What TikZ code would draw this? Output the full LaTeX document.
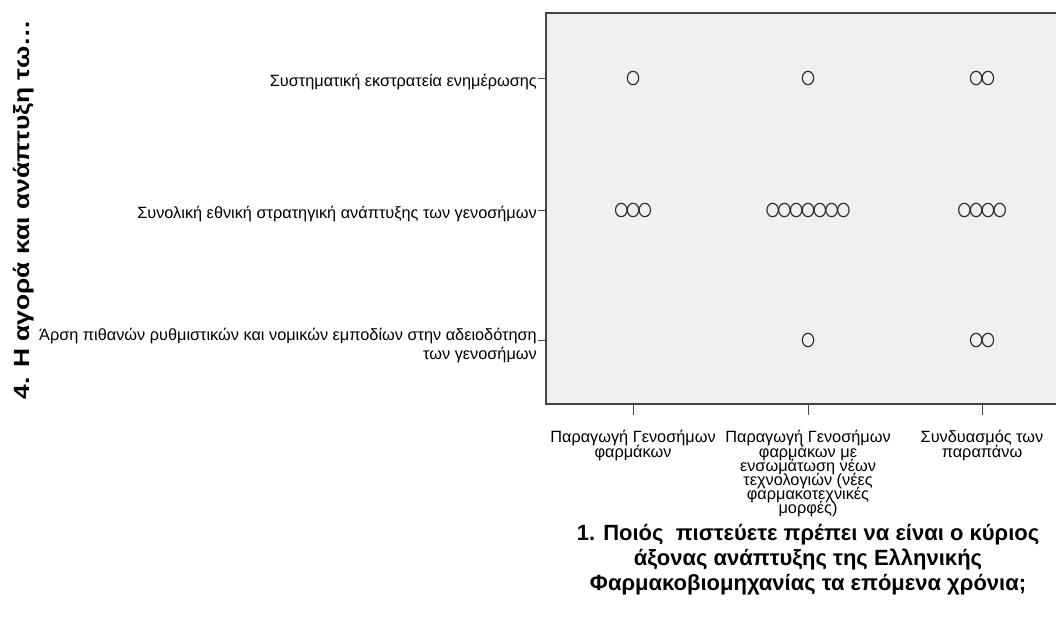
\documentclass[tikz,border=0pt]{standalone}
\usepackage{fontspec}
\setmainfont{Liberation Sans}
\usetikzlibrary{calc}
\definecolor{plotbg}{HTML}{F0F0F0}
\definecolor{frameclr}{HTML}{444444}
\definecolor{ptclr}{HTML}{333333}
\newcommand{\tightlines}{\lineskiplimit=-100pt\relax\lineskip=0pt\relax}
\tikzset{
  ticklbl/.style={inner sep=0pt, font={\fontsize{16.3}{14.2}\selectfont\tightlines}, text=black},
  xlbl/.style={ticklbl, anchor=north, align=center},
  ylbl/.style={ticklbl, anchor=base east, align=right},
  axtitle/.style={inner sep=0pt, font={\bfseries\fontsize{22}{24.7}\selectfont\tightlines}, align=center},
  tickline/.style={draw=frameclr, line width=1pt},
  pt/.style={draw=ptclr, line width=1.2pt},
}
\newcommand{\pts}[3]{% center x, y, count
  \foreach \k in {1,...,#3}{
    \draw[pt] ({#1+(\k-(#3+1)/2)*11.8},#2) ellipse [x radius=5.7, y radius=6.7];
  }}
\begin{document}
\begin{tikzpicture}[x=1pt,y=-1pt]
\useasboundingbox (0,0) rectangle (1056,624);
% plot area
\fill[plotbg] (546,13) rectangle (1080,404);
\draw[frameclr, line width=1.5pt] (1080,13) -- (546,13) -- (546,404) -- (1080,404);
% category coordinates
\coordinate (c1) at (633,404);
\coordinate (c2) at (808,404);
\coordinate (c3) at (982,404);
\coordinate (r1) at (546,78);
\coordinate (r2) at (546,210);
\coordinate (r3) at (546,340);
% ticks
\foreach \c in {c1,c2,c3}{\draw[tickline] (\c) -- ++(0,11) coordinate (\c t);}
\foreach \r in {r1,r2,r3}{\draw[tickline] (\r) -- ++(-8,0) coordinate (\r t);}
% points
\pts{633}{78}{1}
\pts{808}{78}{1}
\pts{982}{78}{2}
\pts{633}{210}{3}
\pts{808}{210}{7}
\pts{982}{210}{4}
\pts{808}{340}{1}
\pts{982}{340}{2}
% y tick labels
\node[ylbl] (l1) at ($(r1t)+(-1,8)$) {Συστηματική εκστρατεία ενημέρωσης};
\node[ylbl] (l2) at ($(r2t)+(-1,8)$) {Συνολική εθνική στρατηγική ανάπτυξης των γενοσήμων};
\node[ylbl, anchor=north east, font={\fontsize{16.3}{19.5}\selectfont}] (l3) at ($(r3t)+(-1,-12)$) {Άρση πιθανών ρυθμιστικών και νομικών εμποδίων στην αδειοδότηση\\των γενοσήμων};
% x tick labels
\node[xlbl] (x1) at (633,430.5) {Παραγωγή Γενοσήμων\\φαρμάκων};
\node[xlbl] (x2) at (808,430.5) {Παραγωγή Γενοσήμων\\φαρμάκων με\\ενσωμάτωση νέων\\τεχνολογιών (νέες\\φαρμακοτεχνικές\\μορφές)};
\node[xlbl] (x3) at (982,430.5) {Συνδυασμός των\\παραπάνω};
% axis titles
\node[axtitle, anchor=north] (xt) at (808,524.5) {1. Ποιός\ \ πιστεύετε πρέπει να είναι ο κύριος\\άξονας ανάπτυξης της Ελληνικής\\Φαρμακοβιομηχανίας τα επόμενα χρόνια;};
\node[inner sep=0pt, font={\bfseries\fontsize{22}{26}\selectfont}, rotate=90, anchor=base] (yt) at (29,210) {\scalebox{1.2}[1]{4. Η αγορά και ανάπτυξη τω…}};
\end{tikzpicture}
\end{document}
